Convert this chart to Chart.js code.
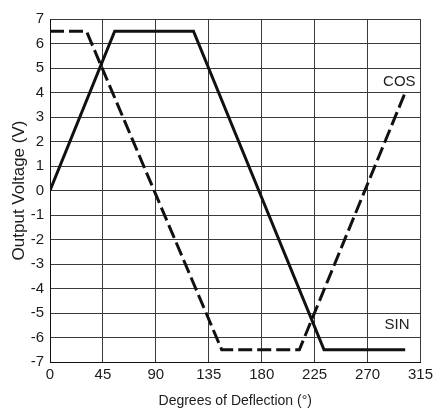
<!DOCTYPE html>
<html>
<head>
<meta charset="utf-8">
<script src="https://cdn.jsdelivr.net/npm/chart.js@4/dist/chart.umd.min.js"></script>
<style>
  html, body { margin: 0; padding: 0; background: #fff; }
  #wrap { width: 437px; height: 411px; }
</style>
</head>
<body>
<div id="wrap"><canvas id="deflectionChart" width="437" height="411"></canvas></div>
<script>
// values
const sinDeg = [0, 55, 122, 233, 302];
const sinVolt = [0, 6.5, 6.5, -6.5, -6.5];
const cosDeg = [0, 31, 146, 212, 302];
const cosVolt = [6.5, 6.5, -6.5, -6.5, 4];
const xTicks = [0, 45, 90, 135, 180, 225, 270, 315];
const yTicks = [-7, -6, -5, -4, -3, -2, -1, 0, 1, 2, 3, 4, 5, 6, 7];
const curveLabels = [
    { text: 'COS', x: 297, y: 4.45 },
    { text: 'SIN', x: 295, y: -5.5 }
];

const sans = '"Liberation Sans", Arial, sans-serif';
const inkColor = '#1c1c1c';
const gridColor = '#3a3a3a';

const toPoints = (xs, ys) => xs.map((x, i) => ({ x: x, y: ys[i] }));

// writes the COS / SIN names next to their lines
const curveLabelPlugin = {
    id: 'curveLabels',
    afterDatasetsDraw(chart) {
        const ctx = chart.ctx;
        const xs = chart.scales.x;
        const ys = chart.scales.y;
        ctx.save();
        ctx.font = '15px ' + sans;
        ctx.fillStyle = inkColor;
        ctx.textAlign = 'center';
        ctx.textBaseline = 'middle';
        curveLabels.forEach(l => {
            ctx.fillText(l.text, xs.getPixelForValue(l.x), ys.getPixelForValue(l.y));
        });
        ctx.restore();
    }
};

const ctx = document.getElementById('deflectionChart').getContext('2d');
new Chart(ctx, {
    type: 'scatter',
    data: {
        datasets: [
            {
                label: 'SIN',
                data: toPoints(sinDeg, sinVolt),
                showLine: true,
                borderColor: '#111',
                borderWidth: 3,
                pointRadius: 0,
                fill: false
            },
            {
                label: 'COS',
                data: toPoints(cosDeg, cosVolt),
                showLine: true,
                borderColor: '#111',
                borderWidth: 3,
                borderDash: [14, 5],
                pointRadius: 0,
                fill: false
            }
        ]
    },
    options: {
        responsive: false,
        animation: false,
        layout: {
            padding: { top: 19, right: 11, bottom: 0, left: 0 }
        },
        plugins: {
            legend: { display: false },
            tooltip: { enabled: false }
        },
        scales: {
            x: {
                type: 'linear',
                min: 0,
                max: 315,
                afterBuildTicks: axis => { axis.ticks = xTicks.map(v => ({ value: v })); },
                afterFit: axis => { axis.height = 49; },
                grid: { color: gridColor, lineWidth: 1, drawTicks: false },
                border: { color: '#111', width: 1 },
                ticks: {
                    padding: 4,
                    color: inkColor,
                    font: { family: sans, size: 15 },
                    maxRotation: 0,
                    autoSkip: false
                },
                title: {
                    display: true,
                    text: 'Degrees of Deflection (°)',
                    color: inkColor,
                    font: { family: sans, size: 14 },
                    padding: { top: 0, bottom: 1 }
                }
            },
            y: {
                min: -7,
                max: 7,
                afterBuildTicks: axis => { axis.ticks = yTicks.map(v => ({ value: v })); },
                afterFit: axis => { axis.width = 50; },
                grid: { color: gridColor, lineWidth: 1, drawTicks: false },
                border: { color: '#111', width: 1 },
                ticks: {
                    padding: 6,
                    color: inkColor,
                    font: { family: sans, size: 15 },
                    autoSkip: false
                },
                title: {
                    display: true,
                    text: 'Output Voltage (V)',
                    color: inkColor,
                    font: { family: sans, size: 17 },
                    padding: { top: 9, bottom: 0 }
                }
            }
        }
    },
    plugins: [curveLabelPlugin]
});
</script>
</body>
</html>
